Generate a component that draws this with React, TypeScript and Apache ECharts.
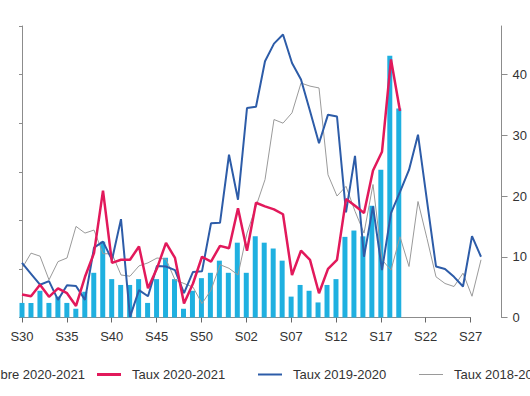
import React, { useEffect, useRef } from "react";
import * as echarts from "echarts";

const weeks = [
  "S30", "S31", "S32", "S33", "S34", "S35", "S36", "S37", "S38", "S39",
  "S40", "S41", "S42", "S43", "S44", "S45", "S46", "S47", "S48", "S49",
  "S50", "S51", "S52", "S53", "S01", "S02", "S03", "S04", "S05", "S06",
  "S07", "S08", "S09", "S10", "S11", "S12", "S13", "S14", "S15", "S16",
  "S17", "S18", "S19", "S20", "S21", "S22", "S23", "S24", "S25", "S26",
  "S27", "S28",
];

const nombre2021 = [
  30, 30, 55, 30, 43, 30, 18, 53, 92, 156,
  79, 67, 67, 79, 30, 79, 123, 79, 18, 55,
  81, 92, 117, 92, 154, 92, 167, 154, 142, 117,
  43, 67, 55, 31, 67, 79, 166, 179, 167, 230,
  304, 539, 430,
];

const taux2021 = [
  3.8, 3.5, 5.4, 3.4, 4.8, 4.0, 1.9, 6.7, 10.6, 20.9,
  9.0, 9.5, 9.5, 11.7, 4.8, 8.1, 12.3, 9.8, 2.3, 5.6,
  10.0, 9.2, 11.8, 11.4, 18.0, 11.0, 18.9, 18.3, 17.8, 17.0,
  7.0, 11.0, 9.5, 4.0, 8.0, 9.5, 19.5, 18.4, 17.2, 24.2,
  27.3, 42.5, 34.0,
];

const taux1920 = [
  9.0, 7.2, 5.4, 6.0, 2.9, 5.3, 5.2, 2.9, 11.5, 12.5,
  9.5, 16.2, 0.1, 4.5, 3.5, 8.5, 8.4, 7.8, 4.0, 7.5,
  7.6, 15.5, 15.6, 26.8, 19.4, 34.5, 34.7, 42.2, 45.1, 46.6,
  41.9, 39.2, 34.0, 28.7, 33.4, 33.1, 17.3, 26.6, 10.0, 18.3,
  7.8, 17.2, 20.7, 24.3, 30.1, 19.2, 8.4, 8.0, 6.7, 5.1,
  13.4, 10.0,
];

const taux1819 = [
  8.1, 10.6, 10.1, 6.2, 9.2, 9.8, 15.0, 13.9, 14.4, 10.5,
  10.5, 7.0, 6.8, 8.5, 9.0, 9.8, 9.6, 6.2, 5.6, 5.0,
  2.3, 4.5, 8.7, 8.1, 7.0, 13.9, 18.3, 22.7, 32.6, 32.0,
  33.7, 38.6, 38.1, 37.8, 23.5, 20.0, 21.6, 17.5, 13.9, 21.9,
  9.5, 7.8, 13.3, 8.4, 19.1, 13.0, 6.7, 5.6, 5.1, 7.3,
  3.5, 9.5,
];

const rightTicks = [0, 10, 20, 30, 40];

const FONT = "'Liberation Sans', Arial, Helvetica, sans-serif";

const RED = "#e2195b";
const BLUE = "#2d5ca8";
const GREY = "#9a9a9a";
const CYAN = "#1fb0e0";

const pairs = (arr: number[]) => arr.map((v, i) => [i, v]);

export default function App() {
  const ref = useRef<HTMLDivElement>(null);
  useEffect(() => {
    const chart = echarts.init(ref.current!, null, { renderer: "svg" });
    const legendItem = (name: string, left: number, h: number, icon: string) => ({
      data: [{ name, icon }],
      left,
      top: 368,
      padding: 0,
      itemWidth: 24,
      itemHeight: h,
      selectedMode: false,
      textStyle: { color: "#333", fontSize: 13, fontFamily: FONT, padding: [0, 0, 0, 6] },
    });
    const lastWeek = weeks.length - 1; // S28
    const axisEnd = lastWeek - 1; // S27, where the drawn axis stops
    chart.setOption({
      animation: false,
      backgroundColor: "#ffffff",
      textStyle: { fontFamily: FONT },
      grid: [
        { left: 22, right: 58, top: 26, bottom: 78.5, containLabel: false },
        { left: 22, right: 49, top: 26, bottom: 78.5, containLabel: false },
      ],
      legend: [
        legendItem("Nombre 2020-2021", -62, 10, "rect"),
        legendItem("Taux 2020-2021", 97, 3, "rect"),
        legendItem("Taux 2019-2020", 258, 2, "rect"),
        legendItem("Taux 2018-2019", 419, 1, "rect"),
      ],
      xAxis: [
        {
          type: "value",
          gridIndex: 0,
          min: 0,
          max: axisEnd,
          interval: 5,
          offset: 4.5,
          axisLine: { show: true, lineStyle: { color: "#8c8c8c", width: 1 } },
          axisTick: { show: true, length: 5, lineStyle: { color: "#666" } },
          axisLabel: {
            color: "#333",
            fontSize: 13,
            margin: 8,
            fontFamily: FONT,
            formatter: (v: number) => weeks[Math.round(v)] ?? "",
          },
          splitLine: { show: false },
        },
        {
          type: "value",
          gridIndex: 1,
          min: 0,
          max: lastWeek,
          show: false,
          splitLine: { show: false },
        },
      ],
      yAxis: [
        {
          type: "value",
          gridIndex: 0,
          min: 0,
          max: 600,
          interval: 100,
          position: "left",
          offset: 19,
          axisLine: { show: true, lineStyle: { color: "#8c8c8c" } },
          axisTick: { show: true, length: 3, lineStyle: { color: "#8c8c8c" } },
          axisLabel: { show: false },
          splitLine: { show: false },
        },
        {
          type: "value",
          gridIndex: 0,
          min: 0,
          max: 48,
          interval: 10,
          position: "right",
          offset: 31,
          axisLine: { show: true, lineStyle: { color: "#8c8c8c" } },
          axisTick: { show: true, length: 6, customValues: rightTicks, lineStyle: { color: "#8c8c8c" } },
          axisLabel: {
            margin: 11,
            fontSize: 13,
            color: "#333",
            fontFamily: FONT,
            customValues: rightTicks,
          },
          splitLine: { show: false },
        },
        {
          type: "value",
          gridIndex: 1,
          min: 0,
          max: 48,
          show: false,
          splitLine: { show: false },
        },
      ],
      series: [
        {
          name: "Nombre 2020-2021",
          type: "bar",
          xAxisIndex: 0,
          yAxisIndex: 0,
          data: pairs(nombre2021),
          barWidth: 5,
          itemStyle: { color: CYAN },
        },
        {
          name: "Taux 2018-2019",
          type: "line",
          xAxisIndex: 1,
          yAxisIndex: 2,
          data: pairs(taux1819),
          symbol: "none",
          lineStyle: { color: GREY, width: 1 },
          itemStyle: { color: GREY },
        },
        {
          name: "Taux 2019-2020",
          type: "line",
          xAxisIndex: 1,
          yAxisIndex: 2,
          data: pairs(taux1920),
          symbol: "none",
          lineStyle: { color: BLUE, width: 2 },
          itemStyle: { color: BLUE },
        },
        {
          name: "Taux 2020-2021",
          type: "line",
          xAxisIndex: 1,
          yAxisIndex: 2,
          data: pairs(taux2021),
          symbol: "none",
          lineStyle: { color: RED, width: 2.5 },
          itemStyle: { color: RED },
        },
      ],
    });
    return () => chart.dispose();
  }, []);
  return (
    <div
      ref={ref}
      style={{ position: "fixed", left: 0, top: 0, width: 530, height: 396, background: "#fff" }}
    />
  );
}
